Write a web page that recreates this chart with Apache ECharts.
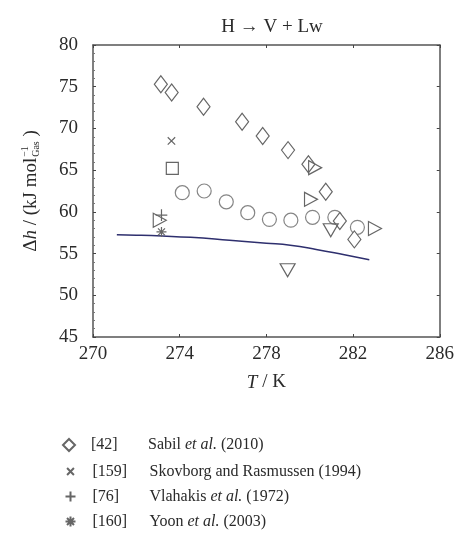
<!DOCTYPE html>
<html>
<head>
<meta charset="utf-8">
<script src="https://cdn.jsdelivr.net/npm/echarts@6/dist/echarts.min.js"></script>
<style>
  html, body { margin: 0; padding: 0; background: #fff; }
  #chart { width: 457px; height: 549px; }
</style>
</head>
<body>
<div id="chart"></div>
<script>
// Dissociation enthalpy H -> V + Lw versus temperature
const sabilT = [273.13, 273.63, 275.10, 276.88, 277.83, 279.00, 279.94, 280.74, 281.39, 282.06];
const sabilH = [75.3, 74.3, 72.6, 70.8, 69.1, 67.4, 65.7, 62.4, 58.9, 56.7];

const skovT = [273.62];
const skovH = [68.5];

const vlahT = [273.16];
const vlahH = [59.6];

const yoonT = [273.16];
const yoonH = [57.6];

const squareT = [273.66];
const squareH = [65.2];

const circleT = [274.12, 275.13, 276.15, 277.14, 278.14, 279.13, 280.13, 281.16, 282.20];
const circleH = [62.3, 62.5, 61.2, 59.9, 59.1, 59.0, 59.35, 59.35, 58.15];

const rightTriT = [273.08, 280.25, 280.06, 283.01];
const rightTriH = [59.0, 65.3, 61.5, 58.0];

const downTriT = [280.97, 278.98];
const downTriH = [57.8, 53.0];

const modelT = [271.1, 272.0, 273.2, 274.5, 276.3, 278.0, 279.1, 280.3, 281.6, 282.75];
const modelH = [57.25, 57.2, 57.1, 56.95, 56.6, 56.25, 56.0, 55.5, 54.85, 54.25];

const xTicks = { min: 270, max: 286, step: 4 };
const yTicks = { min: 45, max: 80, step: 5 };

const legendRefs = ['[42]', '[159]', '[76]', '[160]'];
const legendAuthors = ['Sabil', 'Skovborg and Rasmussen', 'Vlahakis', 'Yoon'];
const legendEtAl = [true, false, true, true];
const legendYears = ['(2010)', '(1994)', '(1972)', '(2003)'];

const FONT = '"Liberation Serif", "DejaVu Serif", serif';
const FS = 19;
const LFS = 16;
const MARK = '#666';
const TEXT = '#2a2a2a';

const pairs = (xs, ys) => xs.map((x, i) => [x, ys[i]]);
const legendNames = legendRefs.map((r, i) => r + ' ' + legendAuthors[i]);

const hollow = { color: '#fff', borderColor: MARK, borderWidth: 1.2, opacity: 1 };
const stroked = { color: 'none', borderColor: MARK, borderWidth: 1.2, opacity: 1 };

// stroked marker paths; the lone moves pad the box so the glyph sits smaller
const crossPath = 'path://M-2,-2M12,12M1,1L9,9M1,9L9,1';
const plusPath = 'path://M-1,-1M11,11M5,0L5,10M0,5L10,5';
const starPath = 'path://M-1,-1M11,11M5,0L5,10M0,5L10,5M1.5,1.5L8.5,8.5M1.5,8.5L8.5,1.5';
const rightTriPath = 'path://M0,0L12,6L0,12Z';

const chart = echarts.init(document.getElementById('chart'), null, { renderer: 'canvas' });

// measure pieces of the y-axis title so they can be laid out in one rotated group
const ctx = document.createElement('canvas').getContext('2d');
function w(text, size, italic) {
  ctx.font = (italic ? 'italic ' : '') + size + 'px ' + FONT;
  return ctx.measureText(text).width;
}
const pieces = [
  { t: '\u0394', s: FS, it: false },
  { t: 'h', s: FS, it: true },
  { t: ' / (kJ mol', s: FS, it: false },
  { stack: true, sup: '\u22121', sub: 'Gas', s: 10 },
  { t: ' )', s: FS, it: false }
];
let total = 0;
pieces.forEach(p => {
  p.w = p.stack ? Math.max(w(p.sup, p.s), w(p.sub, p.s)) + 1 : w(p.t, p.s, p.it);
  total += p.w;
});
let cx = -total / 2;
const titleChildren = [];
pieces.forEach(p => {
  if (p.stack) {
    titleChildren.push({ type: 'text', x: cx + 1, y: -6, style: { text: p.sup, font: p.s + 'px ' + FONT, fill: TEXT, verticalAlign: 'middle' } });
    titleChildren.push({ type: 'text', x: cx + 1, y: 5, style: { text: p.sub, font: p.s + 'px ' + FONT, fill: TEXT, verticalAlign: 'middle' } });
  } else {
    titleChildren.push({ type: 'text', x: cx, y: 0, style: { text: p.t, font: (p.it ? 'italic ' : '') + p.s + 'px ' + FONT, fill: TEXT, verticalAlign: 'middle' } });
  }
  cx += p.w;
});

const axisLine = { show: true, lineStyle: { color: '#555', width: 1.5 } };
const tick = { show: true, inside: true, length: 3, lineStyle: { color: '#444' } };

// one legend block per entry, stacked in rows
const legendRowTop = [437, 463, 488, 513];
const legends = legendNames.map((name, k) => ({
  data: [name],
  orient: 'horizontal', left: 62, top: legendRowTop[k], padding: 0,
  itemWidth: 12, itemHeight: 12, itemGap: 0,
  formatter: function (nm) {
    const i = legendNames.indexOf(nm);
    let s = '{r|' + legendRefs[i] + '}{t|' + legendAuthors[i] + ' }';
    if (legendEtAl[i]) s += '{i|et al.}{t| }';
    return s + '{t|' + legendYears[i] + '}';
  },
  textStyle: {
    fontFamily: FONT, fontSize: LFS, color: TEXT, padding: [0, 0, 0, 11],
    rich: {
      r: { fontFamily: FONT, fontSize: LFS, color: TEXT, width: 57 },
      t: { fontFamily: FONT, fontSize: LFS, color: TEXT },
      i: { fontFamily: FONT, fontSize: LFS, color: TEXT, fontStyle: 'italic' }
    }
  }
}));

const option = {
  backgroundColor: '#fff',
  animation: false,
  title: {
    text: 'H \u2192 V + Lw',
    left: 267, top: 13, textAlign: 'center',
    textStyle: { fontFamily: FONT, fontSize: FS, fontWeight: 'normal', color: TEXT }
  },
  grid: { left: 93, top: 45, right: 16, bottom: 212, containLabel: false },
  xAxis: [{
    type: 'value', position: 'bottom',
    min: xTicks.min, max: xTicks.max, interval: xTicks.step,
    axisLine: axisLine, axisTick: tick,
    splitLine: { show: false },
    axisLabel: { fontFamily: FONT, fontSize: FS, color: TEXT, margin: 8 },
    name: '{i|T} / K', nameLocation: 'middle', nameGap: 36,
    nameTextStyle: { fontFamily: FONT, fontSize: FS, color: TEXT, rich: { i: { fontFamily: FONT, fontSize: FS, fontStyle: 'italic', color: TEXT } } }
  }, {
    type: 'value', position: 'top',
    min: xTicks.min, max: xTicks.max, interval: xTicks.step,
    axisLine: axisLine, axisTick: tick,
    splitLine: { show: false }, axisLabel: { show: false }
  }],
  yAxis: [{
    type: 'value', position: 'left',
    min: yTicks.min, max: yTicks.max, interval: yTicks.step,
    axisLine: axisLine, axisTick: tick,
    minorTick: { show: true, splitNumber: 5, length: 2, lineStyle: { color: '#777' } },
    splitLine: { show: false },
    axisLabel: { fontFamily: FONT, fontSize: FS, color: TEXT, margin: 15 }
  }, {
    type: 'value', position: 'right',
    min: yTicks.min, max: yTicks.max, interval: yTicks.step,
    axisLine: axisLine, axisTick: tick,
    splitLine: { show: false }, axisLabel: { show: false }
  }],
  legend: legends,
  graphic: [{
    type: 'group', x: 31, y: 191, rotation: Math.PI / 2,
    children: titleChildren
  }],
  series: [
    {
      name: 'model', type: 'line', data: pairs(modelT, modelH),
      smooth: true, showSymbol: false, z: 1,
      lineStyle: { color: '#2e2f6e', width: 1.5 }
    },
    {
      name: legendNames[0], type: 'scatter', data: pairs(sabilT, sabilH),
      symbol: 'diamond', symbolSize: [13, 17], itemStyle: hollow, z: 3
    },
    {
      name: legendNames[1], type: 'scatter', data: pairs(skovT, skovH),
      symbol: crossPath, symbolSize: 13, itemStyle: stroked, z: 3
    },
    {
      name: legendNames[2], type: 'scatter', data: pairs(vlahT, vlahH),
      symbol: plusPath, symbolSize: 14, itemStyle: stroked, z: 4
    },
    {
      name: legendNames[3], type: 'scatter', data: pairs(yoonT, yoonH),
      symbol: starPath, symbolSize: 12, itemStyle: stroked, z: 4
    },
    {
      name: 'square', type: 'scatter', data: pairs(squareT, squareH),
      symbol: 'rect', symbolSize: 12, itemStyle: hollow, z: 3
    },
    {
      name: 'circle', type: 'scatter', data: pairs(circleT, circleH),
      symbol: 'circle', symbolSize: 14, itemStyle: { color: 'none', borderColor: MARK, borderWidth: 1.2 }, z: 2
    },
    {
      name: 'right triangle', type: 'scatter', data: pairs(rightTriT, rightTriH),
      symbol: rightTriPath, symbolSize: [13, 14], itemStyle: stroked, z: 3
    },
    {
      name: 'down triangle', type: 'scatter', data: pairs(downTriT, downTriH),
      symbol: 'triangle', symbolRotate: 180, symbolSize: [15, 13], itemStyle: stroked, z: 3
    }
  ]
};

chart.setOption(option);
</script>
</body>
</html>
